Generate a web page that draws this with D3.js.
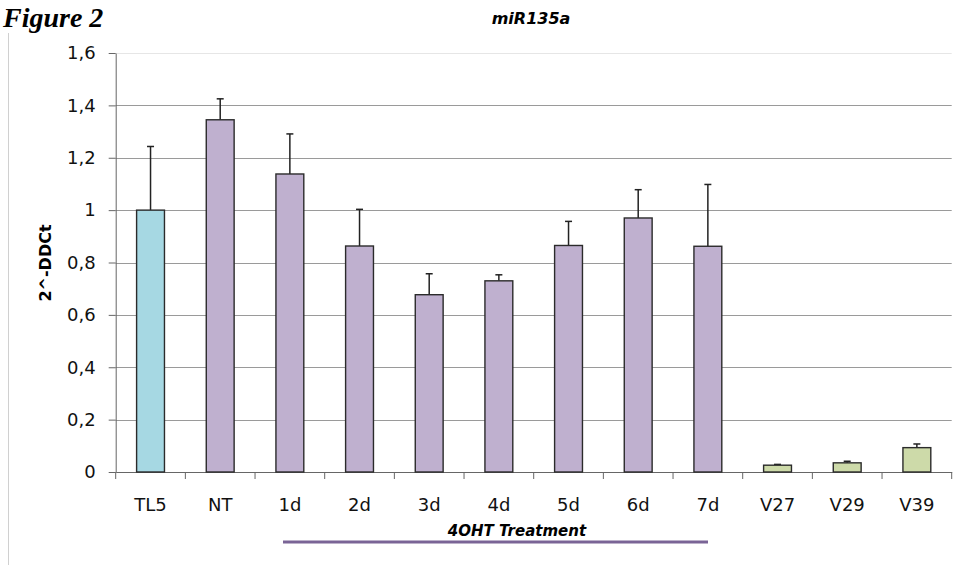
<!DOCTYPE html>
<html>
<head>
<meta charset="utf-8">
<script src="https://cdn.jsdelivr.net/npm/d3@7"></script>
<style>
  html, body { margin: 0; padding: 0; background: #fff; }
  svg { display: block; }
</style>
</head>
<body>
<svg id="chart" width="956" height="565"></svg>
<script>
// miR135a expression (2^-DDCt) per sample
const categories = ["TL5", "NT", "1d", "2d", "3d", "4d", "5d", "6d", "7d", "V27", "V29", "V39"];
const values     = [1.0, 1.345, 1.138, 0.863, 0.677, 0.73, 0.865, 0.97, 0.862, 0.026, 0.035, 0.093];
const errors     = [0.243, 0.08, 0.153, 0.14, 0.08, 0.023, 0.092, 0.108, 0.236, 0.003, 0.006, 0.014];
const groups     = ["control", "treat", "treat", "treat", "treat", "treat", "treat", "treat", "treat", "clone", "clone", "clone"];
const yTicks     = [0, 0.2, 0.4, 0.6, 0.8, 1.0, 1.2, 1.4, 1.6];

const colors = { control: "#a6d8e3", treat: "#bfb0cf", clone: "#cddaa9" };
const sans = "DejaVu Sans, Verdana, sans-serif";

const svg = d3.select("#chart");
const fmt = d => d3.format(".1f")(d).replace(".", ",").replace(/,0$/, "");

const x = d3.scaleBand().domain(categories).range([115.7, 951.7]).paddingInner(0.6).paddingOuter(0.3);
const y = d3.scaleLinear().domain([0, 1.6]).range([472, 53]);

// "Figure 2" heading in the top-left corner
svg.append("text")
  .attr("x", 3).attr("y", 27)
  .attr("font-family", "Liberation Serif, Times New Roman, serif")
  .attr("font-weight", "bold").attr("font-style", "italic")
  .attr("font-size", 28)
  .attr("fill", "#000")
  .text("Figure 2");

// thin frame line at left
svg.append("line")
  .attr("x1", 8.5).attr("x2", 8.5).attr("y1", 33).attr("y2", 565)
  .attr("stroke", "#d0d0d0").attr("stroke-width", 1);

// gridlines
svg.append("g").selectAll("line")
  .data(yTicks.filter(t => t > 0))
  .join("line")
  .attr("x1", 115.7).attr("x2", 951.7)
  .attr("y1", d => Math.round(y(d)) + 0.5).attr("y2", d => Math.round(y(d)) + 0.5)
  .attr("stroke", d => d === 1.6 ? "#e6e6e6" : "#9a9a9a")
  .attr("stroke-width", 1);

// y axis
const yAxis = svg.append("g")
  .attr("transform", "translate(115.7,0)")
  .call(d3.axisLeft(y).tickValues(yTicks).tickFormat(fmt).tickSize(7).tickSizeOuter(0));
yAxis.select(".domain").attr("stroke", "#666");
yAxis.selectAll(".tick line").attr("stroke", "#666");
yAxis.selectAll(".tick text")
  .attr("x", -20)
  .attr("font-family", sans)
  .attr("font-size", 18).attr("fill", "#111");

// x axis
const xAxis = svg.append("g")
  .attr("transform", "translate(0,472)")
  .call(d3.axisBottom(x).tickSize(0).tickSizeOuter(0));
xAxis.select(".domain").attr("stroke", "#666");
xAxis.selectAll(".tick text")
  .attr("y", 26)
  .attr("font-family", sans)
  .attr("font-size", 18).attr("fill", "#111");

// category boundary ticks
const bounds = d3.range(categories.length + 1).map(i => 115.7 + i * x.step());
svg.append("g").selectAll("line")
  .data(bounds)
  .join("line")
  .attr("x1", d => d).attr("x2", d => d)
  .attr("y1", 472).attr("y2", 479)
  .attr("stroke", "#666");

// error bars (upper only)
const eb = svg.append("g");
categories.forEach((c, i) => {
  const cx = x(c) + x.bandwidth() / 2;
  eb.append("line")
    .attr("x1", cx).attr("x2", cx)
    .attr("y1", y(values[i])).attr("y2", y(values[i] + errors[i]))
    .attr("stroke", "#222").attr("stroke-width", 1.5);
  eb.append("line")
    .attr("x1", cx - 3.5).attr("x2", cx + 3.5)
    .attr("y1", y(values[i] + errors[i])).attr("y2", y(values[i] + errors[i]))
    .attr("stroke", "#222").attr("stroke-width", 1.5);
});

// bars
svg.append("g").selectAll("rect")
  .data(categories)
  .join("rect")
  .attr("x", d => x(d))
  .attr("y", (d, i) => y(values[i]))
  .attr("width", x.bandwidth())
  .attr("height", (d, i) => y(0) - y(values[i]))
  .attr("fill", (d, i) => colors[groups[i]])
  .attr("stroke", "#2b2b2b").attr("stroke-width", 1.4);

// chart title
svg.append("text")
  .attr("x", 531).attr("y", 24)
  .attr("text-anchor", "middle")
  .attr("font-family", sans)
  .attr("font-weight", "bold").attr("font-style", "italic")
  .attr("font-size", 16)
  .text("miR135a");

// y axis title
svg.append("text")
  .attr("transform", "translate(51,263) rotate(-90)")
  .attr("text-anchor", "middle")
  .attr("font-family", sans)
  .attr("font-weight", "bold")
  .attr("font-size", 16)
  .text("2^-DDCt");

// treatment bracket
svg.append("text")
  .attr("x", 517).attr("y", 536)
  .attr("text-anchor", "middle")
  .attr("font-family", sans)
  .attr("font-weight", "bold").attr("font-style", "italic")
  .attr("font-size", 15)
  .text("4OHT Treatment");

svg.append("line")
  .attr("x1", 283).attr("x2", 708)
  .attr("y1", 542).attr("y2", 542)
  .attr("stroke", "#7a6496").attr("stroke-width", 3);
</script>
</body>
</html>
